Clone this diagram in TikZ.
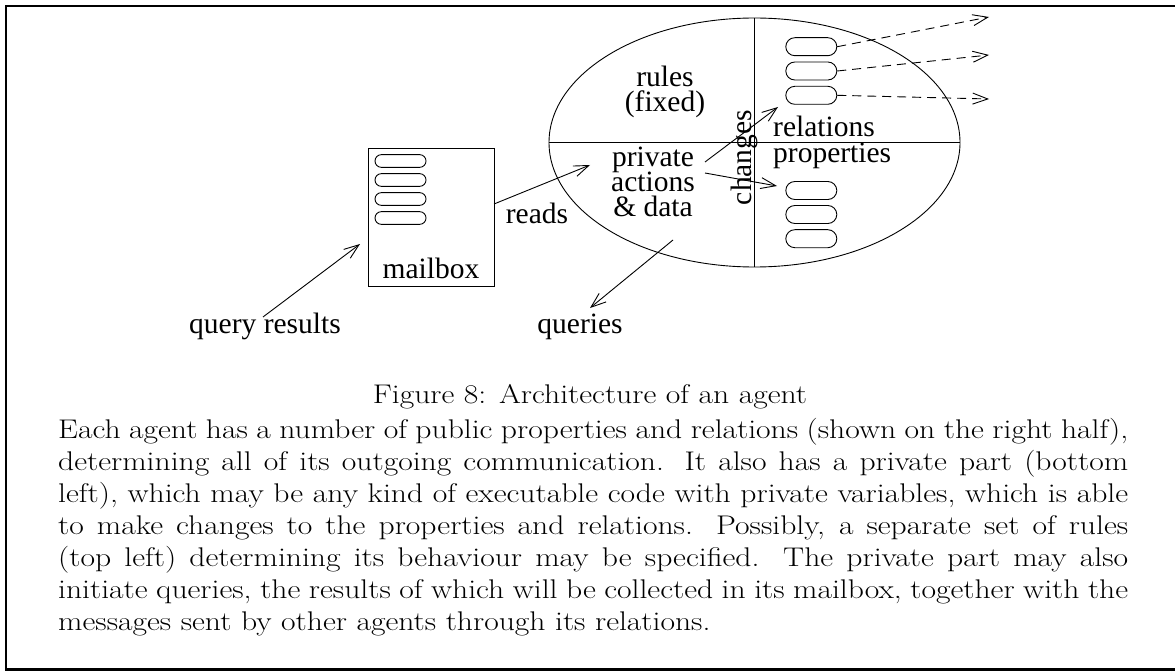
\documentclass[tikz,border=0pt]{standalone}
\usepackage{fontspec}
\newfontfamily\tms{Liberation Serif}
\newfontfamily\bodyfont[FakeStretch=1.17]{Latin Modern Roman}
\usetikzlibrary{shapes.geometric,arrows.meta}
\begin{document}
\begin{tikzpicture}[x=1pt,y=-1pt,
  lbl/.style={font=\tms\fontsize{29.5}{25}\selectfont, inner sep=0pt, anchor=base},
  lblw/.style={lbl, anchor=base west},
  pillS/.style={draw, line width=0.9pt, rounded corners=6.3pt, minimum width=51pt, minimum height=12.7pt, inner sep=0pt},
  pillL/.style={draw, line width=0.9pt, rounded corners=9pt, minimum width=51pt, minimum height=18pt, inner sep=0pt},
  thinline/.style={line width=0.9pt},
  arr/.style={thinline, -{Straight Barb[length=15pt,width=11pt,line width=0.9pt]}},
  darr/.style={arr, dash pattern=on 9pt off 6pt},
  frameline/.style={line width=2.3pt, line join=miter},
  bodyline/.style={font=\bodyfont\fontsize{27}{32}\selectfont, inner sep=0pt, anchor=base west},
]
\useasboundingbox (0,0) rectangle (1175,671);
% frame
\draw[frameline] (1176,6.3) -- (6.3,6.3) -- (6.3,669.5) -- (1176,669.5);

% agent ellipse
\node[ellipse, draw, thinline, minimum width=411pt, minimum height=249pt, inner sep=0pt] (ag) at (754.5,142.5) {};
\draw[thinline] (ag.north) -- (ag.south);
\draw[thinline] (ag.west) -- (ag.east);

% mailbox
\node[draw, thinline, minimum width=126pt, minimum height=138pt, inner sep=0pt] (mb) at (431,217) {};
\node[pillS] (m1) at (400.5,161) {};
\node[pillS] (m2) at (400.5,180) {};
\node[pillS] (m3) at (400.5,199) {};
\node[pillS] (m4) at (400.5,218) {};
\node[lbl] (mbl) at (431,278) {mailbox};

% relation / property pills
\node[pillL] (r1) at (811.3,46.7) {};
\node[pillL] (r2) at (811.3,71) {};
\node[pillL] (r3) at (811.3,95.3) {};
\node[pillL] (p1) at (811.3,190.5) {};
\node[pillL] (p2) at (811.3,214.5) {};
\node[pillL] (p3) at (811.3,238.7) {};

% labels
\node[lbl] (rules) at (665,87) {rules};
\node[lbl] (fixed) at (665,112) {(fixed)};
\node[lbl] (priv) at (653,167) {private};
\node[lbl] (act) at (653,192) {actions};
\node[lbl] (dat) at (653,217) {\& data};
\node[lblw] (rel) at (773,137) {relations};
\node[lblw] (prop) at (773,163) {properties};
\node[lbl, rotate=90] (chg) at (751,157.5) {changes};
\node[lbl] (reads) at (537,223) {reads};
\node[lbl] (qres) at (265,333) {query results};
\node[lbl] (qs) at (580,333) {queries};

% arrow end points
\coordinate (rdS) at (494,204);
\coordinate (rdE) at (590,165);
\coordinate (qrS) at (263,317);
\coordinate (qrE) at (360,244);
\coordinate (qS) at (673,240);
\coordinate (qE) at (590,308);
\coordinate (c1S) at (705,162);
\coordinate (c1E) at (778,107);
\coordinate (c2S) at (705,173);
\coordinate (c2E) at (777,186);
\coordinate (o1) at (989,17);
\coordinate (o2) at (989,55);
\coordinate (o3) at (989,99);

\draw[arr] (rdS) -- (rdE);
\draw[arr] (qrS) -- (qrE);
\draw[arr] (qS) -- (qE);
\draw[arr] (c1S) -- (c1E);
\draw[arr] (c2S) -- (c2E);
\draw[darr] (r1.east) -- (o1);
\draw[darr] (r2.east) -- (o2);
\draw[darr] (r3.east) -- (o3);

% caption and text
\node[bodyline, anchor=base] (cap) at (590,403) {Figure 8: Architecture of an agent};
\node[bodyline] (l1) at (58,438) {\makebox[1070pt][s]{Each agent has a number of public properties and relations (shown on the right half),}};
\node[bodyline] (l2) at (58,470) {\makebox[1070pt][s]{determining all of its outgoing communication.  It also has a private part (bottom}};
\node[bodyline] (l3) at (58,502) {\makebox[1070pt][s]{left), which may be any kind of executable code with private variables, which is able}};
\node[bodyline] (l4) at (58,534) {\makebox[1070pt][s]{to make changes to the properties and relations.  Possibly, a separate set of rules}};
\node[bodyline] (l5) at (58,566) {\makebox[1070pt][s]{(top left) determining its behaviour may be specified.  The private part may also}};
\node[bodyline] (l6) at (58,598) {\makebox[1070pt][s]{initiate queries, the results of which will be collected in its mailbox, together with the}};
\node[bodyline] (l7) at (58,630) {messages sent by other agents through its relations.};
\end{tikzpicture}
\end{document}
